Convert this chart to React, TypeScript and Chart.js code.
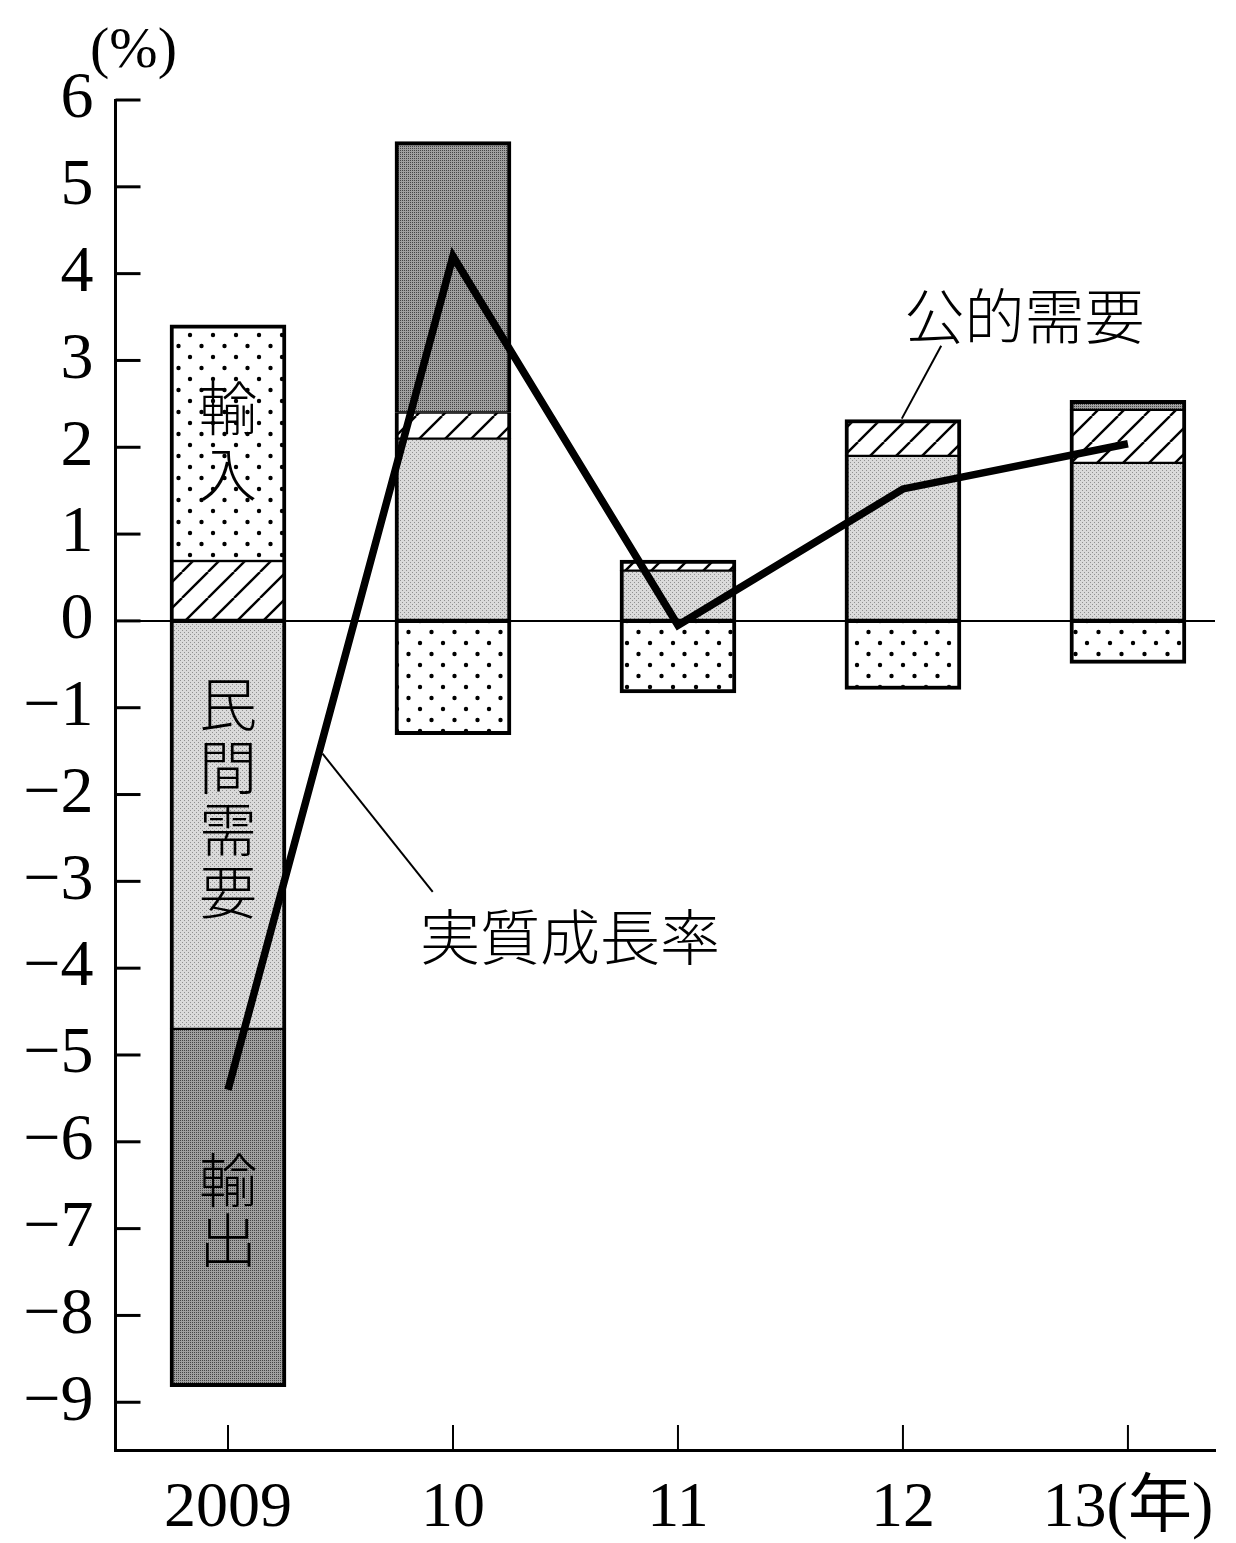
import { useRef, useEffect } from "react";
import { Chart, registerables } from "chart.js";

Chart.register(...registerables);

// Chart data (contributions to real GDP growth, %)
const years = [2009, 2010, 2011, 2012, 2013];
const yearLabels = ["2009", "10", "11", "12", "13(年)"];
const privateDemand = [-4.7, 2.1, 0.58, 1.9, 1.82];
const publicDemand = [0.69, 0.3, 0.12, 0.42, 0.61];
const exportsData = [-4.12, 3.12, null, null, 0.11];
const importsData = [2.72, -1.31, -0.83, -0.79, -0.49];
const realGrowth = [-5.4, 4.2, -0.05, 1.52, 2.04];
const yTicks = [6, 5, 4, 3, 2, 1, 0, -1, -2, -3, -4, -5, -6, -7, -8, -9];

// stacking order of the bar series
const barSeries = [privateDemand, publicDemand, exportsData, importsData];

// Annotations (in data units)
const verticalLabels = [
  { text: "輸入", x: 2009, y: 2.45, step: 0.76 },
  { text: "民間需要", x: 2009, y: -0.96, step: 0.72 },
  { text: "輸出", x: 2009, y: -6.44, step: 0.69 },
];
const textLabels = [
  { text: "公的需要", x: 2012.54, y: 3.51 },
  { text: "実質成長率", x: 2010.52, y: -3.64 },
];
const leaderLines = [
  { from: [2012.17, 3.17], to: [2011.995, 2.33] },
  { from: [2009.42, -1.53], to: [2009.91, -3.12] },
];

const serif = '"Liberation Serif", "Noto Sans CJK JP", serif';
const jp = '"Noto Sans CJK JP", sans-serif';

function makePattern(w: number, h: number, draw: (g: CanvasRenderingContext2D) => void) {
  const c = document.createElement("canvas");
  c.width = w;
  c.height = h;
  const g = c.getContext("2d")!;
  draw(g);
  return g.createPattern(c, "repeat")!;
}

function buildPatterns() {
  const light = makePattern(4, 4, (g) => {
    g.fillStyle = "#dadada";
    g.fillRect(0, 0, 4, 4);
    g.fillStyle = "#909090";
    g.fillRect(0, 0, 1, 1);
    g.fillRect(2, 2, 1, 1);
  });
  const dark = makePattern(2, 2, (g) => {
    g.fillStyle = "#a0a0a0";
    g.fillRect(0, 0, 2, 2);
    g.fillStyle = "#444";
    g.fillRect(0, 0, 1, 1);
  });
  const hatch = makePattern(26, 26, (g) => {
    g.fillStyle = "#fff";
    g.fillRect(0, 0, 26, 26);
    g.strokeStyle = "#000";
    g.lineWidth = 2.4;
    for (const k of [-1, 0, 1]) {
      g.beginPath();
      g.moveTo(k * 26, 26);
      g.lineTo(k * 26 + 26, 0);
      g.stroke();
    }
  });
  const dots = makePattern(23, 22, (g) => {
    g.fillStyle = "#fff";
    g.fillRect(0, 0, 23, 22);
    g.fillStyle = "#000";
    for (const [px, py] of [[6, 5], [17.5, 16]]) {
      g.beginPath();
      g.arc(px, py, 2.2, 0, Math.PI * 2);
      g.fill();
    }
  });
  return { light, dark, hatch, dots };
}

// thick outer edges, thinner seams between stacked segments
function segmentBorder(ctx: any) {
  const k = ctx.datasetIndex - 1;
  const i = ctx.dataIndex;
  const v = barSeries[k]?.[i];
  if (v == null) return 0;
  const outer = !barSeries.slice(k + 1).some((s) => s[i] != null && Math.sign(s[i] as number) === Math.sign(v));
  const edge = outer ? 4 : 1.5;
  return v >= 0
    ? { left: 4, right: 4, top: edge, bottom: 1.5 }
    : { left: 4, right: 4, top: 1.5, bottom: edge };
}

const decorations = {
  id: "decorations",
  afterDatasetsDraw(chart: any) {
    const { ctx, chartArea } = chart;
    const xs = chart.scales.x;
    const ys = chart.scales.y;
    ctx.save();
    ctx.strokeStyle = "#000";
    ctx.fillStyle = "#000";

    // y ticks pointing inward
    ctx.lineWidth = 3;
    for (const v of yTicks) {
      const y = ys.getPixelForValue(v);
      ctx.beginPath();
      ctx.moveTo(chartArea.left, y);
      ctx.lineTo(chartArea.left + 25, y);
      ctx.stroke();
    }
    // x ticks pointing up
    ctx.lineWidth = 2;
    for (const v of years) {
      const x = xs.getPixelForValue(v);
      ctx.beginPath();
      ctx.moveTo(x, chartArea.bottom);
      ctx.lineTo(x, chartArea.bottom - 25);
      ctx.stroke();
    }

    // unit label
    ctx.font = `58px ${serif}`;
    ctx.textAlign = "center";
    ctx.textBaseline = "middle";
    ctx.fillText("(%)", xs.getPixelForValue(2008.58), ys.getPixelForValue(6.56));

    // vertical labels inside the 2009 bar
    ctx.font = `300 58px ${jp}`;
    for (const lab of verticalLabels) {
      const x = xs.getPixelForValue(lab.x);
      Array.from(lab.text).forEach((ch, i) => {
        ctx.fillText(ch, x, ys.getPixelForValue(lab.y - i * lab.step));
      });
    }

    // horizontal labels
    ctx.font = `300 60px ${jp}`;
    for (const lab of textLabels) {
      ctx.fillText(lab.text, xs.getPixelForValue(lab.x), ys.getPixelForValue(lab.y));
    }

    // leader lines
    ctx.lineWidth = 2;
    for (const l of leaderLines) {
      ctx.beginPath();
      ctx.moveTo(xs.getPixelForValue(l.from[0]), ys.getPixelForValue(l.from[1]));
      ctx.lineTo(xs.getPixelForValue(l.to[0]), ys.getPixelForValue(l.to[1]));
      ctx.stroke();
    }
    ctx.restore();
  },
};

export default function GrowthChart() {
  const canvasRef = useRef<HTMLCanvasElement | null>(null);
  const chartRef = useRef<Chart | null>(null);

  useEffect(() => {
    document.body.style.margin = "0";
    document.documentElement.style.overflow = "hidden";
    if (chartRef.current) {
      chartRef.current.destroy();
      chartRef.current = null;
    }
    const canvas = canvasRef.current;
    if (!canvas) return;

    const p = buildPatterns();
    const toPoints = (arr: (number | null)[]) => years.map((x, i) => ({ x, y: arr[i] }));
    const barBase = {
      type: "bar" as const,
      barThickness: 116,
      borderWidth: segmentBorder,
      borderColor: "#000",
      borderSkipped: false,
      stack: "bars",
      order: 1,
    };

    chartRef.current = new Chart(canvas, {
      type: "bar",
      data: {
        datasets: [
          {
            type: "line",
            label: "実質成長率",
            data: toPoints(realGrowth),
            borderColor: "#000",
            borderWidth: 7.5,
            borderJoinStyle: "miter",
            pointRadius: 0,
            tension: 0,
            stack: "line",
            order: 0,
          },
          { ...barBase, label: "民間需要", data: toPoints(privateDemand), backgroundColor: p.light },
          { ...barBase, label: "公的需要", data: toPoints(publicDemand), backgroundColor: p.hatch },
          { ...barBase, label: "輸出", data: toPoints(exportsData), backgroundColor: p.dark },
          { ...barBase, label: "輸入", data: toPoints(importsData), backgroundColor: p.dots },
        ] as any,
      },
      options: {
        animation: false,
        responsive: true,
        maintainAspectRatio: false,
        layout: { padding: { top: 100, right: 21, bottom: 0, left: 0 } },
        plugins: {
          legend: { display: false },
          tooltip: { enabled: false },
        },
        scales: {
          x: {
            type: "linear",
            min: 2008.5,
            max: 2013.387,
            offset: false,
            stacked: true,
            afterBuildTicks: (s: any) => {
              s.ticks = years.map((v) => ({ value: v }));
            },
            afterFit: (s: any) => {
              s.height = 93;
            },
            grid: { display: false, drawTicks: false },
            border: { display: true, color: "#000", width: 3 },
            ticks: {
              autoSkip: false,
              maxRotation: 0,
              padding: 21,
              color: "#000",
              font: { family: serif, size: 64 },
              callback: (v: any) => yearLabels[years.indexOf(Number(v))] ?? "",
            },
          },
          y: {
            type: "linear",
            min: -9.55,
            max: 6,
            stacked: true,
            afterBuildTicks: (s: any) => {
              s.ticks = yTicks.map((v) => ({ value: v }));
            },
            afterFit: (s: any) => {
              s.width = 115.5;
            },
            grid: {
              drawTicks: false,
              lineWidth: 2,
              color: (c: any) => (c.tick && c.tick.value === 0 ? "#000" : "rgba(0,0,0,0)"),
            },
            border: { display: true, color: "#000", width: 3 },
            ticks: {
              padding: 22,
              color: "#000",
              font: { family: serif, size: 66 },
              callback: (v: any) => (Number(v) < 0 ? "−" + Math.abs(Number(v)) : String(v)),
            },
          },
        },
      },
      plugins: [decorations],
    });

    return () => {
      chartRef.current?.destroy();
      chartRef.current = null;
    };
  }, []);

  return (
    <div style={{ position: "relative", width: 1236, height: 1543, background: "#fff", overflow: "hidden" }}>
      <canvas ref={canvasRef} style={{ display: "block" }} />
    </div>
  );
}
